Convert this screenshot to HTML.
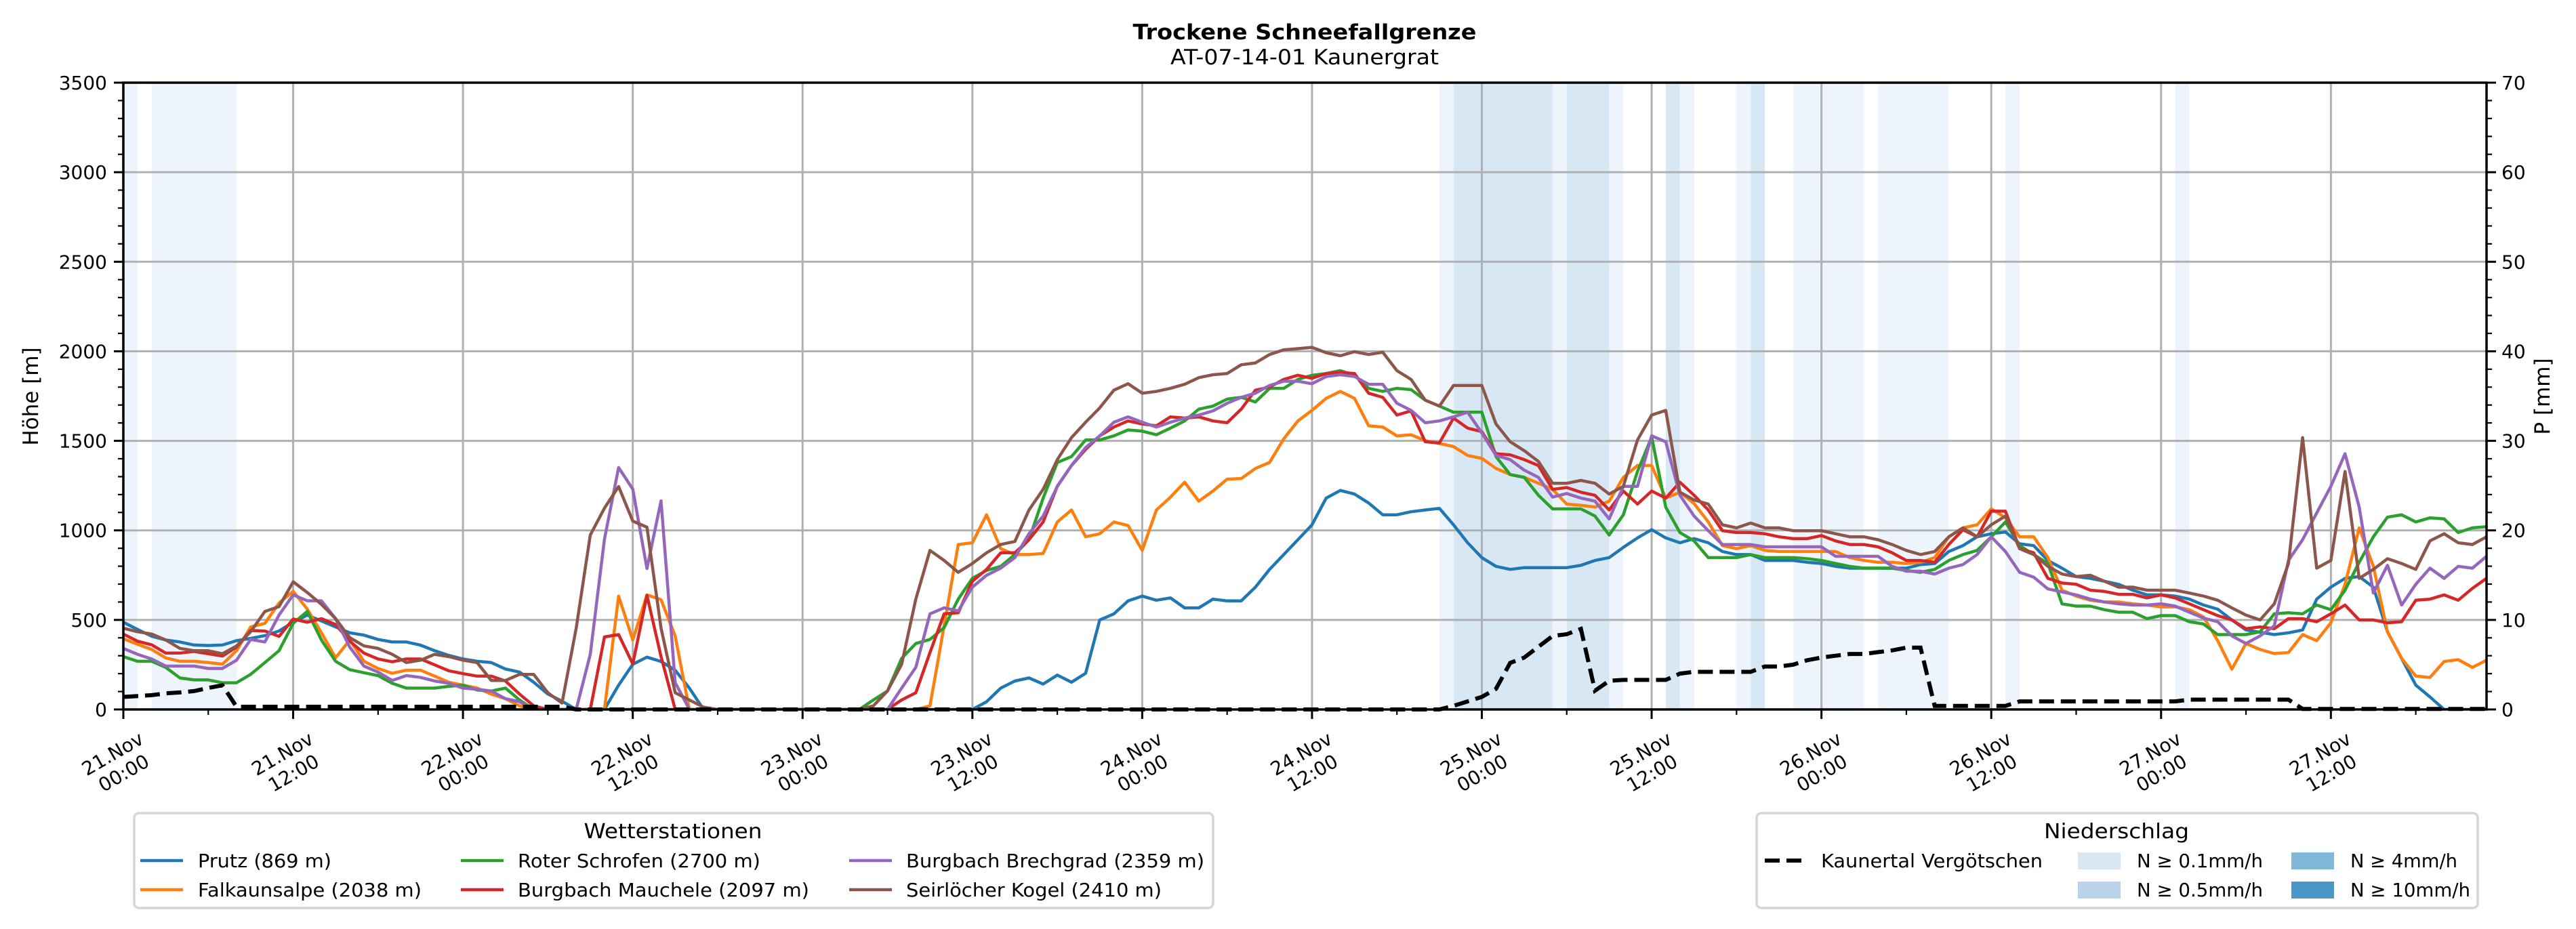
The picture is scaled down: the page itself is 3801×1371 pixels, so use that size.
<!DOCTYPE html>
<html><head><meta charset="utf-8"><style>
html,body{margin:0;padding:0;background:#fff}
svg{display:block;font-family:"DejaVu Sans","Liberation Sans",sans-serif}
</style></head><body>
<svg id="chart" width="3801" height="1371" viewBox="0 0 3801 1371" xmlns="http://www.w3.org/2000/svg">
<rect width="3801" height="1371" fill="#fff"/>
<g id="bands"></g>
<g id="grid"></g>
<g id="series"></g>
<g id="axes"></g>
<text x="1925" y="58" text-anchor="middle" font-size="31" font-weight="bold" textLength="507" lengthAdjust="spacingAndGlyphs">Trockene Schneefallgrenze</text>
<text x="1925" y="95" text-anchor="middle" font-size="31" textLength="396" lengthAdjust="spacingAndGlyphs">AT-07-14-01 Kaunergrat</text>
<text transform="translate(56,585) rotate(-90)" text-anchor="middle" font-size="31">Höhe [m]</text>
<text transform="translate(3762,585) rotate(-90)" text-anchor="middle" font-size="31">P [mm]</text>
<g id="legend1"></g>
<g id="legend2"></g>
</svg>
<script>
// ---- data (hourly, 21.Nov 00:00 .. 27.Nov 23:00) ----
const stations = ["Prutz (869 m)","Falkaunsalpe (2038 m)","Roter Schrofen (2700 m)","Burgbach Mauchele (2097 m)","Burgbach Brechgrad (2359 m)","Seirlöcher Kogel (2410 m)"];
const colors = ["#1f77b4","#ff7f0e","#2ca02c","#d62728","#9467bd","#8c564b"];
const prutz = [487,447,409,388,377,360,357,360,384,397,412,438,487,527,494,461,428,415,391,377,377,359,328,302,282,269,262,226,209,
152,86,46,0,0,0,136,252,292,268,219,119,0,
0,0,0,0,0,0,0,0,0,0,0,0,0,0,0,0,0,0,0,
43,119,159,176,142,192,152,202,500,534,606,633,610,623,567,567,616,606,606,
683,782,865,948,1031,1180,1223,1203,1153,1087,1087,1104,1114,1123,1031,931,848,799,782,792,
792,792,792,805,832,848,905,958,1004,958,931,954,931,
882,865,865,832,832,832,822,815,799,789,789,789,789,789,809,815,882,915,964,981,991,925,915,832,789,742,732,716,699,666,640,640,633,616,583,560,500,444,431,418,428,444,616,683,732,742,683,434,285,136,70,0,0,0,0];
const falkaunsalpe = [395,364,335,288,269,269,262,253,328,461,481,594,660,560,428,289,388,269,229,
202,219,219,186,152,136,119,86,60,20,0,0,0,0,0,0,633,388,640,613,409,0,
0,0,0,0,0,0,0,0,0,0,0,0,0,0,0,0,
20,467,921,931,1087,898,865,865,871,1047,1114,964,981,1047,1027,888,1114,1186,1269,1163,1220,1286,1289,
1346,1379,1511,1611,1670,1737,1776,1737,1584,1577,1528,1534,1501,1485,1468,1418,1402,1346,1312,1296,
1263,1229,1147,1140,1130,1163,1296,1362,1362,1180,1213,1150,1047,
915,898,915,888,882,882,882,882,882,848,832,822,822,815,822,848,964,1014,1031,1120,1070,964,964,848,666,633,610,600,600,590,583,573,573,557,517,384,225,368,335,312,318,418,384,484,699,1014,799,434,285,186,179,268,278,235,275];
const roterSchrofen = [295,269,269,235,176,165,165,149,149,196,262,328,481,547,388,269,222,205,189,
146,119,119,119,129,136,109,103,119,53,
0,0,0,0,0,0,0,0,0,0,0,0,0,0,0,0,0,0,0,0,0,0,0,0,
53,103,285,368,391,457,616,732,776,799,865,948,1180,1379,1412,1505,1505,1528,1561,1554,1534,1571,1611,1677,1694,1733,1743,
1717,1793,1793,1843,1866,1876,1892,1866,1793,1776,1793,1786,1727,1694,1660,1660,1660,1412,1312,1296,
1196,1120,1120,1120,1080,974,1087,1329,1521,1130,988,941,848,
848,848,865,848,848,848,842,832,815,799,789,789,789,776,766,782,832,865,888,964,1047,915,865,815,590,577,577,557,543,543,507,524,524,490,477,418,418,418,434,534,540,534,583,557,666,822,964,1074,1087,1047,1070,1064,988,1014,1021];
const mauchele = [421,381,361,315,315,324,311,298,348,441,438,408,505,487,507,474,381,315,282,266,282,282,249,216,200,186,186,
159,86,20,0,0,0,0,405,418,254,637,295,
0,0,0,0,0,0,0,0,0,0,0,0,0,0,0,0,
53,93,318,534,540,716,782,875,875,948,1047,1246,1362,1452,1528,1577,1611,1594,1584,1634,1627,1634,1611,1601,1677,
1783,1800,1843,1866,1849,1876,1882,1876,1766,1743,1644,1667,1495,1488,1627,1571,1551,1428,1422,1395,
1362,1229,1239,1213,1196,1114,1220,1147,1220,1180,1269,1196,1114,
998,988,988,981,964,954,954,971,941,921,921,908,875,832,832,822,921,1004,964,1107,1107,898,875,732,706,699,666,659,643,643,623,640,623,590,557,524,500,451,461,451,507,507,490,534,583,500,500,484,490,610,616,640,610,676,732];
const brechgrad = [341,308,282,242,242,242,229,229,275,391,377,527,640,607,607,507,348,242,209,162,189,
179,159,146,119,113,103,60,43,0,0,0,0,308,951,1351,1230,787,1165,150,
0,0,0,0,0,0,0,0,0,0,0,0,0,0,0,
119,235,534,567,550,683,749,789,848,981,1080,1246,1362,1462,1528,1604,1634,1604,1577,1604,1627,1644,1667,1710,1743,
1766,1809,1833,1833,1819,1859,1869,1859,1816,1816,1710,1670,1601,1611,1634,1660,1544,1418,1395,1336,
1296,1186,1206,1180,1163,1064,1246,1246,1528,1495,1196,1080,998,
921,921,921,908,908,908,908,908,855,855,855,855,799,772,772,756,789,809,865,964,882,766,739,673,656,640,616,600,590,583,583,590,577,543,510,490,411,368,411,467,832,948,1097,1246,1428,1130,650,805,583,699,789,732,799,789,855];
const seirloecher = [454,434,421,388,341,328,328,311,355,434,547,574,713,653,587,507,401,355,341,308,262,275,308,295,275,262,162,162,
196,196,93,36,454,974,1124,1245,1052,1018,454,93,53,13,
0,0,0,0,0,0,0,0,0,0,0,
20,103,252,616,888,832,766,815,875,921,938,1114,1229,1395,1518,1604,1684,1783,1819,1766,1776,1793,1816,1853,1869,1876,1925,
1935,1982,2008,2015,2022,1992,1975,1998,1982,1995,1892,1843,1727,1694,1809,1809,1809,1594,1495,1445,
1385,1263,1263,1279,1263,1203,1246,1505,1644,1670,1213,1170,1147,
1031,1014,1041,1014,1014,998,998,998,981,964,964,948,921,888,865,882,964,1014,964,1031,1080,898,865,799,756,742,749,716,683,683,666,666,666,650,633,610,567,527,500,590,815,1518,789,832,1329,732,782,842,815,782,941,981,931,921,964];
const precipKaunertal = [1.4,1.5,1.6,1.8,1.9,2.05,2.4,2.7,
0.3,0.3,0.3,0.3,0.3,0.3,0.3,0.3,0.3,0.3,0.3,0.3,0.3,0.3,0.3,0.3,0.3,0.3,0.3,0.3,0.3,0.3,0.3,0.3,
0,0,0,0,0,0,0,0,0,0,0,0,0,0,0,0,0,0,0,0,0,0,0,0,0,0,0,0,0,0,0,0,0,0,0,0,0,0,0,0,0,0,0,0,0,0,0,0,0,0,0,0,0,0,0,0,0,0,0,0,0,0,
0.4,0.9,1.4,2.3,5.2,5.8,7.0,8.2,8.4,9.0,2.1,3.2,3.3,3.3,3.3,3.3,4.0,4.2,4.2,4.2,4.2,4.2,4.8,4.8,5.0,5.5,5.8,6.0,6.2,6.2,6.4,6.6,6.9,6.9,
0.4,0.4,0.4,0.4,0.4,0.4,0.9,0.9,0.9,0.9,0.9,0.9,0.9,0.9,0.9,0.9,0.9,0.9,1.1,1.1,1.1,1.1,1.1,1.1,1.1,1.1,
0.05,0.05,0.05,0.05,0.05,0.05,0.05,0.05,0.05,0.05,0.05,0.05,0.05,0.05];
// precipitation class per hour band: [startHour, endHour, class]  class 1: >=0.1, 2: >=0.5
const bandStart = [0,2,93,94,101,102,105,109,110,114,115,118,124,133,145];
const bandEnd   = [1,8,94,101,102,105,106,110,111,115,116,123,129,134,146];
const bandClass = [1,1,1,2,1,2,1,2,1,1,2,1,1,1,1];
const xTickLabels = ["21.Nov\n00:00","21.Nov\n12:00","22.Nov\n00:00","22.Nov\n12:00","23.Nov\n00:00","23.Nov\n12:00","24.Nov\n00:00","24.Nov\n12:00","25.Nov\n00:00","25.Nov\n12:00","26.Nov\n00:00","26.Nov\n12:00","27.Nov\n00:00","27.Nov\n12:00"];
const yTicks = [0,500,1000,1500,2000,2500,3000,3500];
const y2Ticks = [0,10,20,30,40,50,60,70];

// ---- layout ----
const L=182,R=3669,T=122,B=1047, NH=167;
const NS="http://www.w3.org/2000/svg";
const xs=h=>L+(R-L)*h/NH;
const ys=v=>B-(B-T)*Math.max(0,v)/3500;
const ys2=v=>B-(B-T)*Math.max(0,v)/70;
function mk(tag,attrs,parent){const e=document.createElementNS(NS,tag);for(const k in attrs)e.setAttribute(k,attrs[k]);parent.appendChild(e);return e;}
const gB=document.getElementById('bands'),gG=document.getElementById('grid'),gS=document.getElementById('series'),gA=document.getElementById('axes');
const bandColors={1:"#eef4fb",2:"#d8e7f4"};
for(let i=0;i<bandStart.length;i++){
  const r=mk('rect',{x:xs(bandStart[i]),y:T,width:xs(bandEnd[i])-xs(bandStart[i]),height:B-T,fill:bandColors[bandClass[i]]},gB);
  
  
}
// grid
yTicks.forEach(v=>{const l=mk('line',{x1:L,x2:R,y1:ys(v),y2:ys(v),stroke:"#b0b0b0","stroke-width":3},gG);
  
  });
xTickLabels.forEach((t,i)=>{const l=mk('line',{x1:xs(i*12),x2:xs(i*12),y1:T,y2:B,stroke:"#b0b0b0","stroke-width":3},gG);
  
  });
// series
const seriesData=[prutz,falkaunsalpe,roterSchrofen,mauchele,brechgrad,seirloecher];
const defs=mk('defs',{},gS);const cp=mk('clipPath',{id:'clip'},defs);mk('rect',{x:L,y:T-2,width:R-L,height:B-T+2},cp);
seriesData.forEach((d,si)=>{
  const p=mk('path',{d:d.map((v,h)=>(h?'L':'M')+xs(h).toFixed(1)+','+ys(v).toFixed(1)).join(''),fill:'none',stroke:colors[si],'stroke-width':4.5,'stroke-linejoin':'round','clip-path':'url(#clip)'},gS);
  
  
});
const pp=mk('path',{d:precipKaunertal.map((v,h)=>(h?'L':'M')+xs(h).toFixed(1)+','+ys2(v).toFixed(1)).join(''),fill:'none',stroke:'#000','stroke-width':6,'stroke-dasharray':'22,10'},gS);


// axes
mk('rect',{x:L,y:T,width:R-L,height:B-T,fill:'none',stroke:'#000','stroke-width':3.5},gA);
for(let v=0;v<=3500;v+=100){const maj=v%500===0;mk('line',{x1:L,x2:L-(maj?14:8),y1:ys(v),y2:ys(v),stroke:'#000','stroke-width':maj?3:2.2},gA);}
for(let v=0;v<=70;v+=2){const maj=v%10===0;mk('line',{x1:R,x2:R+(maj?14:8),y1:ys2(v),y2:ys2(v),stroke:'#000','stroke-width':maj?3:2.2},gA);}
for(let h=0;h<=NH;h+=6){const maj=h%12===0;mk('line',{x1:xs(h),x2:xs(h),y1:B,y2:B+(maj?14:8),stroke:'#000','stroke-width':maj?3:2.2},gA);}
yTicks.forEach(v=>{const t=mk('text',{x:L-24,y:ys(v)+10,'text-anchor':'end','font-size':28},gA);t.textContent=v;
  
  });
y2Ticks.forEach(v=>{const t=mk('text',{x:R+22,y:ys2(v)+10,'text-anchor':'start','font-size':28},gA);t.textContent=v;
  
  });
xTickLabels.forEach((s,i)=>{const parts=s.split('\n');
  const g=mk('g',{transform:`translate(${xs(i*12)-8},1126) rotate(-30)`},gA);
  
  
  mk('text',{x:0,y:-6,'text-anchor':'middle','font-size':28},g).textContent=parts[0];
  mk('text',{x:0,y:27,'text-anchor':'middle','font-size':28},g).textContent=parts[1];
});
// legend 1
const g1=document.getElementById('legend1');
mk('rect',{x:198,y:1200,width:1592,height:140,rx:7,fill:'#fff',stroke:'#d6d6d6','stroke-width':3.5},g1);
const lt=mk('text',{x:993,y:1237,'text-anchor':'middle','font-size':30,textLength:263,lengthAdjust:'spacingAndGlyphs'},g1);lt.textContent='Wetterstationen';


const lx=[[207,292],[680,764],[1253,1337]],ly=[1270,1313];
const tw=[197,330,358,430,440,377];
stations.forEach((s,i)=>{const c=Math.floor(i/2),r=i%2;
  const g=mk('g',{},g1);
  
  
  mk('line',{x1:lx[c][0],x2:lx[c][0]+63,y1:ly[r],y2:ly[r],stroke:colors[i],'stroke-width':4.5},g);
  mk('text',{x:lx[c][1],y:ly[r]+10,'font-size':28,textLength:tw[i],lengthAdjust:'spacingAndGlyphs'},g).textContent=s;
});
// legend 2
const g2=document.getElementById('legend2');
mk('rect',{x:2592,y:1200,width:1064,height:140,rx:7,fill:'#fff',stroke:'#d6d6d6','stroke-width':3.5},g2);
const lt2=mk('text',{x:3123,y:1237,'text-anchor':'middle','font-size':30,textLength:214,lengthAdjust:'spacingAndGlyphs'},g2);lt2.textContent='Niederschlag';


const e0=mk('g',{},g2);


mk('line',{x1:2604,x2:2662,y1:1270,y2:1270,stroke:'#000','stroke-width':6,'stroke-dasharray':'22,10'},e0);
mk('text',{x:2687,y:1280,'font-size':28,textLength:327,lengthAdjust:'spacingAndGlyphs'},e0).textContent='Kaunertal Vergötschen';
const pc=[["#d9e7f4","N ≥ 0.1mm/h",3066,1270,186],["#b9d4ea","N ≥ 0.5mm/h",3066,1313,186],["#80b8da","N ≥ 4mm/h",3381,1270,158],["#4a98c9","N ≥ 10mm/h",3381,1313,177]];
pc.forEach(p=>{const g=mk('g',{},g2);
  
  
  mk('rect',{x:p[2],y:p[3]-12,width:63,height:25,fill:p[0]},g);
  mk('text',{x:p[2]+87,y:p[3]+10,'font-size':28,textLength:p[4],lengthAdjust:'spacingAndGlyphs'},g).textContent=p[1];
});
</script>
</body></html>
